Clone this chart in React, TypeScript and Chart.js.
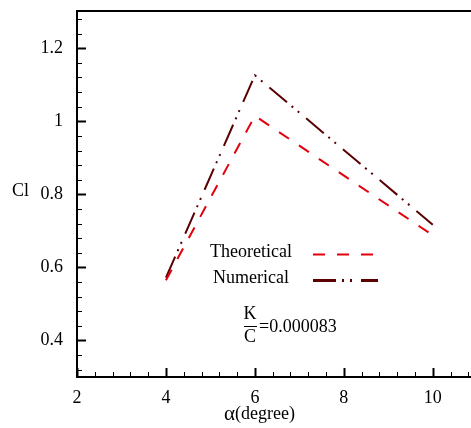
import React, { useEffect, useRef } from "react";
import { Chart, registerables } from "chart.js";

Chart.register(...registerables);

const xTicks = [2, 4, 6, 8, 10];
const yTicks = [0.4, 0.6, 0.8, 1, 1.2];
const alpha = [4, 6, 10];
const theoretical = [0.565, 1.015, 0.688];
const numerical = [0.572, 1.126, 0.717];
const seriesNames = ["Theoretical", "Numerical"];
const xTitle = "(degree)";
const yTitle = "Cl";
const ratioText = "=0.000083";

const X_MIN = 2;
const X_MAX = 10.86;
const Y_MIN = 0.3;
const Y_MAX = 1.302;
const FONT = "'Liberation Serif', 'Times New Roman', serif";

const RED = "#e2000c";
const MAROON = "#5a0000";
const DASH_T = [12, 12];
const DASH_N = [23, 6, 2, 6, 2, 9];

const decor = {
  id: "decor",
  afterDraw(chart: any) {
    const ctx = chart.ctx;
    const { left, top, right, bottom } = chart.chartArea;
    const xs = chart.scales.x;
    const ys = chart.scales.y;
    ctx.save();
    ctx.strokeStyle = "#000";
    ctx.lineWidth = 2;
    ctx.lineCap = "butt";
    ctx.beginPath();
    ctx.moveTo(left, top);
    ctx.lineTo(right + 2, top);
    ctx.moveTo(left, top - 1);
    ctx.lineTo(left, bottom + 1);
    ctx.moveTo(left - 1, bottom);
    ctx.lineTo(right + 2, bottom);
    ctx.stroke();
    for (let k = 0; ; k++) {
      const v = X_MIN + k * 0.4;
      if (v > X_MAX + 1e-6) break;
      const major = Math.abs(v / 2 - Math.round(v / 2)) < 1e-6;
      const px = Math.round(xs.getPixelForValue(v)) + 0.5;
      ctx.lineWidth = major ? 2 : 1;
      ctx.beginPath();
      ctx.moveTo(px, bottom);
      ctx.lineTo(px, bottom - (major ? 9 : 5));
      ctx.stroke();
    }
    for (let k = 0; ; k++) {
      const v = 0.32 + k * 0.04;
      if (v > Y_MAX + 1e-6) break;
      const major = Math.abs(v / 0.2 - Math.round(v / 0.2)) < 1e-6;
      const py = Math.round(ys.getPixelForValue(v)) + 0.5;
      ctx.lineWidth = major ? 2 : 1;
      ctx.beginPath();
      ctx.moveTo(left, py);
      ctx.lineTo(left + (major ? 9 : 5), py);
      ctx.stroke();
    }
    ctx.fillStyle = "#000";
    ctx.textBaseline = "middle";
    ctx.textAlign = "left";
    ctx.font = `18px ${FONT}`;
    ctx.fillText(yTitle, 12, 191);
    ctx.font = `21px ${FONT}`;
    const aw = ctx.measureText("\u03b1").width;
    ctx.font = `18px ${FONT}`;
    ctx.fillText(xTitle, 224 + aw, 414);
    ctx.font = `21px ${FONT}`;
    ctx.fillText("\u03b1", 224, 414);
    const ds = chart.data.datasets;
    const rows = [252, 278];
    const ends = [374, 378];
    ds.forEach((d: any, i: number) => {
      ctx.font = `18px ${FONT}`;
      ctx.textAlign = "center";
      ctx.fillStyle = "#000";
      ctx.fillText(d.label, 251, rows[i]);
      ctx.strokeStyle = d.borderColor;
      ctx.lineWidth = i === 0 ? 2 : 3;
      ctx.setLineDash(d.borderDash);
      ctx.beginPath();
      ctx.moveTo(313, rows[i] + 2.5);
      ctx.lineTo(ends[i], rows[i] + 2.5);
      ctx.stroke();
      ctx.setLineDash([]);
    });
    ctx.fillStyle = "#000";
    ctx.textAlign = "center";
    ctx.font = `18px ${FONT}`;
    ctx.fillText("K", 250, 314);
    ctx.fillText("C", 250, 337);
    ctx.strokeStyle = "#000";
    ctx.lineWidth = 1;
    ctx.beginPath();
    ctx.moveTo(244, 326.5);
    ctx.lineTo(257, 326.5);
    ctx.stroke();
    ctx.textAlign = "left";
    ctx.fillText(ratioText, 259, 327);
    ctx.restore();
  },
};

export default function App() {
  const ref = useRef<HTMLCanvasElement>(null);
  useEffect(() => {
    if (!ref.current) return;
    const chart = new Chart(ref.current, {
      type: "line",
      data: {
        datasets: [
          {
            label: seriesNames[0],
            data: alpha.map((a, i) => ({ x: a, y: theoretical[i] })),
            borderColor: RED,
            borderDash: DASH_T,
            borderWidth: 2,
            pointRadius: 0,
            fill: false,
          },
          {
            label: seriesNames[1],
            data: alpha.map((a, i) => ({ x: a, y: numerical[i] })),
            borderColor: MAROON,
            borderDash: DASH_N,
            borderWidth: 2,
            pointRadius: 0,
            fill: false,
          },
        ],
      },
      options: {
        animation: false,
        responsive: true,
        maintainAspectRatio: false,
        layout: { padding: { top: 11, right: 0, left: 0, bottom: 0 } },
        plugins: { legend: { display: false }, tooltip: { enabled: false } },
        scales: {
          x: {
            type: "linear",
            min: X_MIN,
            max: X_MAX,
            grid: { display: false },
            border: { display: false },
            afterBuildTicks: (s: any) => {
              s.ticks = xTicks.map((v) => ({ value: v }));
            },
            afterFit: (s: any) => {
              s.height = 51;
              s.paddingLeft = 0;
              s.paddingRight = 0;
            },
            ticks: {
              padding: 2,
              color: "#000",
              font: { family: FONT, size: 18 },
              maxRotation: 0,
              callback: (v: any) => String(v),
            },
          },
          y: {
            type: "linear",
            min: Y_MIN,
            max: Y_MAX,
            grid: { display: false },
            border: { display: false },
            afterBuildTicks: (s: any) => {
              s.ticks = yTicks.map((v) => ({ value: v }));
            },
            afterFit: (s: any) => {
              s.width = 77;
              s.paddingTop = 0;
              s.paddingBottom = 0;
            },
            ticks: {
              padding: 6,
              color: "#000",
              font: { family: FONT, size: 18 },
              callback: (v: any) => String(v),
            },
          },
        },
      },
      plugins: [decor],
    });
    return () => chart.destroy();
  }, []);
  return (
    <div style={{ position: "fixed", left: 0, top: 0, width: 471, height: 428 }}>
      <canvas ref={ref} />
    </div>
  );
}
